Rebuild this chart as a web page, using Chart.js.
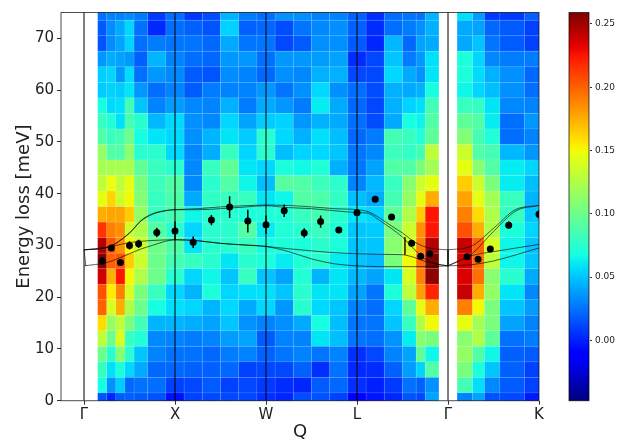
<!DOCTYPE html>
<html>
<head>
<meta charset="utf-8">
<script src="https://cdn.jsdelivr.net/npm/chart.js@4"></script>
<style>
  body { margin: 0; background: #fff; }
  canvas { position: absolute; left: 0; top: 0; }
</style>
</head>
<body>
<canvas id="map" width="629" height="441"></canvas>
<canvas id="bar" width="629" height="441"></canvas>
<script>
const FONT = '"DejaVu Sans"';

const qTickValues = [0, 1, 2, 3, 4, 5];
const qTickLabels = ['Γ', 'X', 'W', 'L', 'Γ', 'K'];
const energyTicks = [0, 10, 20, 30, 40, 50, 60, 70];
const colorTicks = [0, 0.05, 0.1, 0.15, 0.2, 0.25];
const colorMin = -0.0476;
const colorMax = 0.259;

// column edges along Q (two separate scans)
const edgesGammaGamma = [0.15, 0.25, 0.35, 0.45, 0.55, 0.7, 0.9, 1.1, 1.3, 1.5, 1.7, 1.9, 2.1, 2.3, 2.5, 2.7, 2.9, 3.1, 3.3, 3.5, 3.65, 3.75, 3.9];
const edgesGammaK = [4.1, 4.27, 4.4, 4.57, 4.84, 5];
// energy at the centre of each row, top row first
const rowEnergies = [75, 72, 69, 66, 63, 60, 57, 54, 51, 48, 45, 42, 39, 36, 33, 30, 27, 24, 21, 18, 15, 12, 9, 6, 3, 0];
const rowHalfHeight = 1.5;

const intensity = [
  [.025,.03,.03,.033,.028,.008,.024,.008,.014,.045,.028,.024,.035,.034,.03,.03,.02,.005,.024,.026,.025,.045,.058,.038,.008,.008,.02],
  [.018,.033,.042,.055,.025,.003,.024,.02,.016,.054,.02,.022,.014,.026,.032,.034,.02,.004,.024,.028,.034,.044,.042,.04,.022,.018,.01],
  [.016,.033,.04,.054,.024,.028,.026,.026,.022,.042,.026,.026,.012,.018,.034,.034,.018,.002,.046,.022,.04,.042,.042,.05,.026,.018,.01],
  [.036,.043,.04,.036,.02,.045,.03,.024,.022,.036,.036,.024,.036,.036,.038,.04,.004,.012,.05,.028,.036,.058,.07,.055,.032,.028,.028],
  [.053,.055,.036,.057,.024,.036,.032,.018,.016,.033,.03,.022,.034,.032,.044,.044,.012,.012,.056,.042,.034,.06,.07,.057,.044,.034,.022],
  [.052,.054,.052,.06,.036,.024,.03,.018,.028,.03,.03,.036,.026,.034,.056,.034,.024,.014,.044,.042,.044,.068,.065,.055,.048,.034,.024],
  [.068,.056,.058,.085,.05,.03,.038,.032,.03,.044,.028,.042,.036,.028,.062,.042,.022,.012,.044,.054,.058,.084,.08,.078,.06,.032,.03],
  [.08,.072,.058,.086,.075,.046,.056,.034,.032,.055,.04,.052,.054,.036,.044,.042,.024,.014,.042,.068,.064,.09,.095,.09,.062,.024,.036],
  [.09,.08,.085,.1,.068,.06,.056,.034,.045,.06,.052,.075,.056,.044,.058,.048,.022,.028,.085,.08,.072,.095,.108,.085,.072,.024,.03],
  [.115,.09,.09,.112,.075,.075,.056,.032,.043,.08,.055,.075,.048,.054,.056,.05,.026,.032,.082,.078,.085,.13,.135,.09,.085,.046,.036],
  [.122,.122,.122,.122,.095,.08,.075,.032,.08,.095,.06,.056,.07,.066,.072,.044,.026,.04,.09,.09,.105,.12,.145,.11,.09,.062,.055],
  [.13,.148,.13,.145,.105,.082,.09,.032,.075,.09,.065,.048,.092,.09,.082,.076,.03,.046,.08,.11,.135,.145,.165,.135,.105,.062,.048],
  [.145,.162,.135,.15,.108,.08,.088,.042,.078,.08,.08,.06,.065,.09,.088,.078,.048,.042,.085,.115,.145,.175,.178,.145,.12,.08,.045],
  [.175,.178,.178,.165,.115,.08,.085,.065,.075,.075,.07,.07,.072,.08,.085,.075,.06,.055,.095,.125,.165,.225,.19,.16,.125,.08,.05],
  [.215,.19,.185,.135,.125,.09,.075,.055,.075,.075,.09,.062,.072,.075,.08,.07,.05,.052,.105,.135,.185,.225,.205,.175,.125,.07,.055],
  [.245,.205,.185,.15,.135,.1,.09,.06,.075,.075,.08,.068,.07,.07,.075,.07,.05,.05,.11,.14,.19,.245,.24,.2,.14,.065,.05],
  [.257,.2,.205,.165,.135,.1,.085,.08,.075,.06,.075,.07,.062,.072,.075,.062,.05,.046,.105,.15,.195,.259,.235,.195,.13,.065,.05],
  [.238,.175,.225,.15,.125,.1,.075,.055,.065,.05,.08,.05,.04,.072,.045,.06,.046,.04,.06,.14,.19,.255,.235,.195,.11,.075,.042],
  [.205,.155,.19,.14,.105,.08,.055,.045,.07,.055,.058,.058,.05,.075,.06,.06,.04,.026,.07,.13,.18,.22,.24,.175,.115,.06,.032],
  [.2,.14,.175,.125,.1,.068,.058,.055,.045,.056,.042,.056,.036,.075,.056,.05,.03,.024,.055,.095,.145,.175,.19,.15,.105,.05,.038],
  [.16,.115,.13,.105,.085,.045,.045,.043,.04,.05,.035,.03,.034,.042,.068,.048,.026,.026,.05,.08,.125,.15,.145,.12,.105,.04,.03],
  [.13,.1,.14,.08,.072,.032,.03,.028,.03,.038,.04,.018,.03,.03,.06,.048,.026,.024,.035,.062,.11,.105,.11,.125,.095,.025,.028],
  [.1,.075,.11,.075,.05,.03,.025,.025,.022,.028,.03,.02,.026,.03,.026,.03,.005,.012,.03,.04,.095,.065,.115,.09,.065,.02,.018],
  [.08,.058,.07,.055,.042,.022,.022,.02,.02,.022,.01,.012,.012,.02,.005,.025,.003,.004,.02,.038,.054,.09,.105,.07,.05,.02,.01],
  [.068,.035,.052,.022,.025,.024,.01,.012,.018,.01,.012,.008,.004,.002,.018,.022,.005,0,.008,.025,.02,.035,.085,.058,.032,.018,.01],
  [.015,.002,.018,.02,.018,.015,-.005,.01,.012,.012,.012,.005,.002,.014,.015,.01,-.012,-.003,.002,.016,.012,.04,.03,.04,.015,.012,-.002]
];

// measured phonon energies with error bars
const pointQ = [0.2, 0.3, 0.4, 0.5, 0.6, 0.8, 1, 1.2, 1.4, 1.6, 1.8, 2, 2.2, 2.42, 2.6, 2.8, 3, 3.2, 3.38, 3.6, 3.7, 3.8, 4.21, 4.33, 4.465, 4.667, 5];
const pointE = [27, 29.5, 26.7, 30, 30.3, 32.5, 32.8, 30.6, 34.9, 37.4, 34.7, 34, 36.7, 32.4, 34.6, 33, 36.3, 38.9, 35.5, 30.4, 27.9, 28.4, 27.8, 27.35, 29.3, 33.9, 36];
const pointErr = [0.7, 0.5, 0.7, 0.8, 0.8, 0.9, 1.8, 1.1, 1, 2.1, 2.2, 1.8, 1.2, 0.9, 1.2, 0.5, 0.5, 0.4, 0.3, 0.4, 0.4, 0.5, 0.5, 0.3, 0.3, 0.7, 0.8];

// calculated dispersion branches
const branchQ = [0, 0.25, 0.5, 0.625, 0.75, 0.875, 1, 1.25, 1.5, 1.75, 2, 2.25, 2.5, 2.75, 3, 3.125, 3.25, 3.375, 3.5, 3.625, 3.75, 3.875, 4];
const branchA1 = [29.15, 29.6, 32.4, 34.8, 36.1, 36.7, 36.9, 37.1, 37.45, 37.65, 37.8, 37.7, 37.45, 37.1, 36.9, 36.5, 35.3, 33.8, 32.4, 30.75, 29.7, 29.3, 29.15];
const branchA2 = [29.15, 29.6, 32.4, 34.7, 36, 36.6, 36.9, 36.9, 37.1, 37.4, 37.65, 37.3, 37.1, 36.7, 36.35, 36.2, 34.8, 33.3, 31.6, 29.3, 27.35, 26.4, 26.05];
const branchB1 = [29.15, 29.65, 30.55, 30.8, 30.95, 31.05, 31.1, 30.9, 30.4, 30.1, 29.8, 29.35, 28.95, 28.6, 28.4, 28.35, 28.3, 28.25, 28.2, 27.7, 26.9, 26.4, 26.05];
const branchB2 = [26.05, 26.7, 28.4, 29.3, 30, 30.7, 31.1, 30.9, 30.4, 30.1, 29.8, 28.8, 27.4, 26.45, 26.05, 25.95, 25.9, 25.9, 25.9, 25.9, 25.9, 25.95, 26.05];
const kBranchQ = [4, 4.25, 4.5, 4.75, 5];
const kBranch1 = [29.15, 29.8, 33.3, 37, 37.7];
const kBranch2 = [26.05, 28.2, 32.7, 36.7, 37.7];
const kBranch3 = [26.05, 28, 28.8, 29.5, 30.2];
const kBranch4 = [26.05, 26.25, 27, 28.2, 29.5];
// short joins where the branches are closed off
const joinQ = [[0, 0.02], [3.527, 3.527], [4, 4]];
const joinE = [[29.15, 26.05], [31.6, 28.2], [29.15, 26.05]];

function clamp01(v) {
  return Math.max(0, Math.min(1, v));
}

// matplotlib jet
function jet(t) {
  const r = t < 0.89 ? clamp01((t - 0.35) / 0.31) : 1 - (t - 0.89) / 0.11 * 0.5;
  const g = t < 0.64 ? clamp01((t - 0.125) / 0.25) : clamp01(1 - (t - 0.64) / 0.27);
  const b = t < 0.34 ? clamp01(0.5 + t / 0.11 * 0.5) : clamp01(1 - (t - 0.34) / 0.31);
  return `rgb(${Math.round(r * 255)},${Math.round(g * 255)},${Math.round(b * 255)})`;
}

function valueColor(v) {
  return jet(clamp01((v - colorMin) / (colorMax - colorMin)));
}

function pairs(xs, ys) {
  return xs.map((x, i) => ({ x: x, y: ys[i] }));
}

function branchSet(xs, ys) {
  return {
    type: 'line',
    data: pairs(xs, ys),
    borderColor: 'rgba(0,0,0,0.62)',
    borderWidth: 1,
    pointRadius: 0,
    cubicInterpolationMode: 'monotone',
    clip: 0,
    order: 3
  };
}

function straightSet(points, color, width, order) {
  return {
    type: 'line',
    data: points,
    borderColor: color,
    borderWidth: width,
    pointRadius: 0,
    spanGaps: false,
    clip: 0,
    order: order
  };
}

const framePlugin = {
  id: 'frame',
  afterDraw(chart) {
    const a = chart.chartArea;
    const ctx = chart.ctx;
    ctx.save();
    ctx.strokeStyle = 'rgba(0,0,0,0.7)';
    ctx.lineWidth = 1;
    ctx.strokeRect(a.left, a.top, a.right - a.left, a.bottom - a.top);
    ctx.restore();
  }
};

// heat map cells, placed through the chart scales
const cellPlugin = {
  id: 'cells',
  beforeDatasetsDraw(chart) {
    const a = chart.chartArea;
    const ctx = chart.ctx;
    const xs = chart.scales.x;
    const ys = chart.scales.y;
    const columns = [];
    [edgesGammaGamma, edgesGammaK].forEach(edges => {
      for (let i = 0; i < edges.length - 1; i++) {
        columns.push([edges[i], edges[i + 1]]);
      }
    });
    ctx.save();
    ctx.beginPath();
    ctx.rect(a.left, a.top, a.right - a.left, a.bottom - a.top);
    ctx.clip();
    rowEnergies.forEach((e, r) => {
      const top = ys.getPixelForValue(e + rowHalfHeight);
      const bottom = ys.getPixelForValue(e - rowHalfHeight);
      columns.forEach((c, i) => {
        const left = xs.getPixelForValue(c[0]);
        const right = xs.getPixelForValue(c[1]);
        ctx.fillStyle = valueColor(intensity[r][i]);
        ctx.fillRect(left, top, right - left, bottom - top);
        ctx.strokeStyle = 'rgba(255,255,255,0.08)';
        ctx.lineWidth = 1;
        ctx.strokeRect(left, top, right - left, bottom - top);
      });
    });
    ctx.restore();
  }
};

// error bars as one broken line, symmetry lines as another
const errorPoints = pointQ.flatMap((q, i) => [
  { x: q, y: pointE[i] - pointErr[i] },
  { x: q, y: pointE[i] + pointErr[i] },
  { x: q, y: null }
]);
const symmetryPoints = qTickValues.slice(0, 5).flatMap(q => [
  { x: q, y: 0 },
  { x: q, y: 75 },
  { x: q, y: null }
]);
const joinPoints = joinQ.flatMap((qs, i) => [
  { x: qs[0], y: joinE[i][0] },
  { x: qs[1], y: joinE[i][1] },
  { x: qs[1], y: null }
]);

new Chart(document.getElementById('map'), {
  type: 'scatter',
  data: {
    datasets: [
      {
        data: pairs(pointQ, pointE),
        backgroundColor: '#000',
        borderColor: '#000',
        pointRadius: 3.5,
        borderWidth: 0,
        clip: 0,
        order: 0
      },
      straightSet(errorPoints, '#000', 1.5, 1),
      straightSet(symmetryPoints, '#000', 1, 2),
      straightSet(joinPoints, 'rgba(0,0,0,0.62)', 1, 3),
      branchSet(branchQ, branchA1),
      branchSet(branchQ, branchA2),
      branchSet(branchQ, branchB1),
      branchSet(branchQ, branchB2),
      branchSet(kBranchQ, kBranch1),
      branchSet(kBranchQ, kBranch2),
      branchSet(kBranchQ, kBranch3),
      branchSet(kBranchQ, kBranch4)
    ]
  },
  options: {
    responsive: false,
    animation: false,
    layout: { padding: { top: 12.5, right: 90, bottom: 0, left: 0 } },
    plugins: { legend: { display: false }, tooltip: { enabled: false } },
    scales: {
      x: {
        type: 'linear',
        min: -0.253,
        max: 5,
        afterBuildTicks: s => { s.ticks = qTickValues.map(v => ({ value: v })); },
        afterFit: s => { s.height = 40.3; },
        grid: { drawOnChartArea: false, tickLength: 4, tickColor: '#333' },
        border: { color: 'rgba(0,0,0,0)' },
        ticks: {
          autoSkip: false,
          maxRotation: 0,
          padding: 1,
          color: '#222',
          font: { family: FONT, size: 15 },
          callback: v => qTickLabels[qTickValues.indexOf(v)]
        },
        title: {
          display: true,
          text: 'Q',
          color: '#222',
          font: { family: FONT, size: 18 },
          padding: { top: 0, bottom: -2 }
        }
      },
      y: {
        min: 0,
        max: 75,
        afterBuildTicks: s => { s.ticks = energyTicks.map(v => ({ value: v })); },
        afterFit: s => { s.width = 61; },
        grid: { drawOnChartArea: false, tickLength: 4, tickColor: '#333' },
        border: { color: 'rgba(0,0,0,0)' },
        ticks: {
          padding: 3,
          color: '#222',
          font: { family: FONT, size: 15 }
        },
        title: {
          display: true,
          text: 'Energy loss [meV]',
          color: '#222',
          font: { family: FONT, size: 18 },
          padding: { top: 14, bottom: 0 }
        }
      }
    }
  },
  plugins: [cellPlugin, framePlugin]
});

// colour bar, a second small chart on the same scale as the map colours
const colorBarRange = [colorMin, colorMax];

function barGradient(context) {
  const a = context.chart.chartArea;
  if (!a) return '#000';
  const g = context.chart.ctx.createLinearGradient(0, a.bottom, 0, a.top);
  for (let i = 0; i <= 64; i++) {
    g.addColorStop(i / 64, jet(i / 64));
  }
  return g;
}

new Chart(document.getElementById('bar'), {
  type: 'bar',
  data: {
    labels: ['intensity'],
    datasets: [{
      data: [colorBarRange],
      backgroundColor: barGradient,
      borderWidth: 0,
      barPercentage: 1,
      categoryPercentage: 1
    }]
  },
  options: {
    responsive: false,
    animation: false,
    layout: { padding: { top: 12.5, right: 0, bottom: 40.3, left: 569 } },
    plugins: { legend: { display: false }, tooltip: { enabled: false } },
    scales: {
      x: { display: false },
      y: {
        position: 'right',
        min: colorMin,
        max: colorMax,
        afterBuildTicks: s => { s.ticks = colorTicks.map(v => ({ value: v })); },
        afterFit: s => { s.width = 40; },
        grid: { drawOnChartArea: false, tickLength: 3, tickColor: '#333' },
        border: { color: 'rgba(0,0,0,0)' },
        ticks: {
          padding: 3,
          color: '#222',
          font: { family: FONT, size: 9 },
          callback: v => v.toFixed(2)
        }
      }
    }
  },
  plugins: [framePlugin]
});
</script>
</body>
</html>
